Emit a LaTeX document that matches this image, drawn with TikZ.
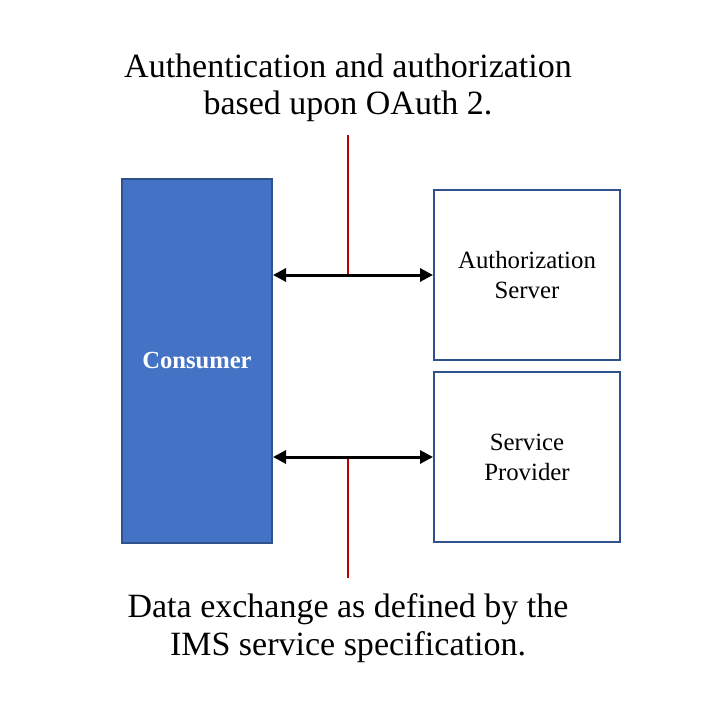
\documentclass[tikz,border=0pt]{standalone}
\usepackage{fontspec}
\setmainfont{Liberation Serif}
\usetikzlibrary{arrows.meta}
\definecolor{consumerblue}{HTML}{4472C4}
\definecolor{edgeblue}{HTML}{2F528F}
\definecolor{divred}{HTML}{C00000}
\begin{document}
\begin{tikzpicture}[x=0.5bp, y=-0.5bp,
  partybox/.style={draw=edgeblue, line width=1bp, align=center, inner sep=0pt},
  exchange/.style={{Triangle[length=6.5bp,width=6.5bp]}-{Triangle[length=6.5bp,width=6.5bp]}, line width=1.5bp},
  divider/.style={draw=divred, line width=0.6bp},
  caption/.style={align=center, font=\fontsize{17bp}{18.8bp}\selectfont}]
\useasboundingbox (0,0) rectangle (720,720);
\node[partybox, fill=consumerblue, minimum width=75bp, minimum height=182bp,
  text=white, font=\fontsize{12.3bp}{14bp}\selectfont\bfseries] (consumer) at (197,361) {Consumer};
\node[partybox, minimum width=93bp, minimum height=85bp,
  font=\fontsize{12.4bp}{15bp}\selectfont] (authserver) at (527,275) {Authorization\\Server};
\node[partybox, minimum width=93bp, minimum height=85bp,
  font=\fontsize{12.4bp}{15bp}\selectfont] (provider) at (527,457) {Service\\Provider};
\coordinate (divtop) at (348,135);
\coordinate (divbottom) at (348,578);
\draw[divider] (divtop) -- (divtop |- authserver.west);
\draw[divider] (divbottom) -- (divbottom |- provider.west);
\draw[exchange] (consumer.east |- authserver.west) -- (authserver.west);
\draw[exchange] (consumer.east |- provider.west) -- (provider.west);
\node[caption] (authtext) at (348,88) {Authentication and authorization\\based upon OAuth 2.};
\node[caption] (datatext) at (348,628) {Data exchange as defined by the\\IMS service specification.};
\end{tikzpicture}
\end{document}
